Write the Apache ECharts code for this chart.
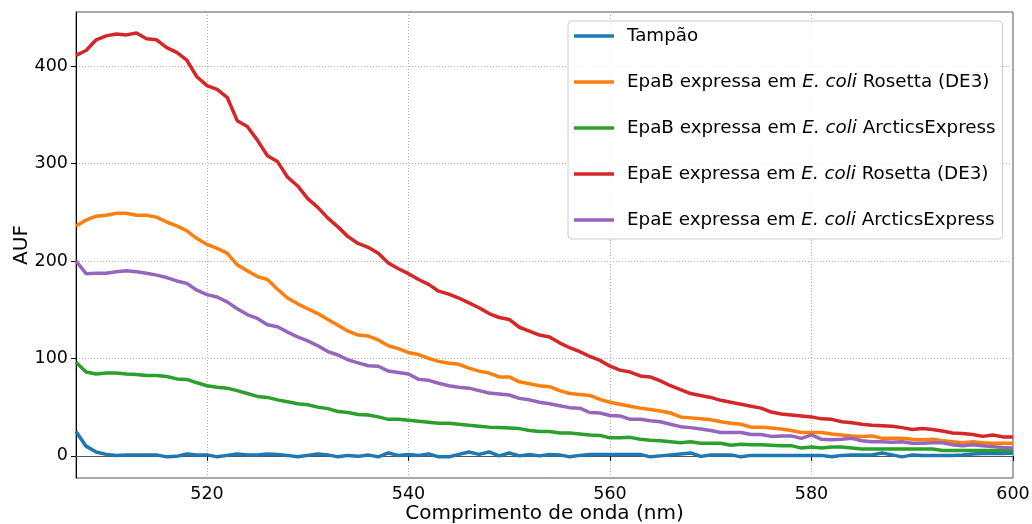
<!DOCTYPE html>
<html>
<head>
<meta charset="utf-8">
<script src="https://cdn.jsdelivr.net/npm/echarts@6/dist/echarts.min.js"></script>
<style>
  html, body { margin: 0; padding: 0; background: #fff; }
  #chart { width: 1032px; height: 524px; }
</style>
</head>
<body>
<div id="chart"></div>
<script>
// Emission spectra, one reading per nanometre from 507 nm to 600 nm
const WAVELENGTH_START = 507;
const WAVELENGTH_END = 600;

const seriesNames = [
  'Tampão',
  'EpaB expressa em E. coli Rosetta (DE3)',
  'EpaB expressa em E. coli ArcticsExpress',
  'EpaE expressa em E. coli Rosetta (DE3)',
  'EpaE expressa em E. coli ArcticsExpress'
];

const tampao = [
  25, 10, 4, 1.5, 0.5, 1, 1, 1, 1, -1, -0.5, 2, 1, 1, -1, 0.5, 2, 1, 1, 2,
  1.5, 0.5, -1, 0.5, 2, 1, -1, 0.5, -0.5, 1, -1, 3, 0.5, 1.5, 0.5, 2, -1, -1, 1.5, 4,
  1.5, 4, 0, 3, 0, 1.5, 0, 1.5, 1, -1, 0.5, 1.5, 1.5, 1.5, 1.5, 1.5, 1.5, -1, 0, 1,
  2, 3, -0.5, 1, 1, 1, -1, 0.5, 0.5, 0.5, 0.5, 0.5, 0.5, 0.5, 0.5, -1, 0.5, 1, 1, 1,
  3, 1, -1, 1, 0.5, 0.5, 0.5, 0.5, 1, 2, 2.5, 2.5, 2.5, 3
];

const epaBRosetta = [
  236, 242, 246, 247, 249, 249, 247, 247, 245, 240, 236, 231, 223, 217, 213, 208, 196, 190, 184, 181,
  171, 162, 156, 151, 146, 140, 134, 128, 124, 123, 119, 113, 110, 106, 104, 100, 97, 95, 94, 90,
  87, 85, 81, 81, 76, 74, 72, 71, 67, 64, 63, 62, 58, 55, 53, 51, 49, 47.5, 46, 44,
  40, 39, 38, 37, 35, 33.5, 32.5, 29.5, 29.5, 28.5, 27.5, 26, 24, 24, 24, 22.5, 21.5, 20.5, 20, 20.5,
  18, 18, 18, 17, 16.5, 17, 15.5, 14.5, 13.5, 14.5, 13.5, 13, 13, 13
];

const epaBArctic = [
  96, 86, 84, 85, 85, 84, 83.5, 82.5, 82.5, 81.5, 79, 78.5, 75, 72, 70.5, 69.5, 67, 64, 61, 60,
  57.5, 55.5, 53.5, 52.5, 50, 48.5, 45.5, 44.5, 42.5, 42, 40, 37.5, 37.5, 36.5, 35.5, 34.5, 33.5, 33.5, 32.5, 31.5,
  30.5, 29.5, 29, 28.5, 28, 26, 25, 25, 23.5, 23.5, 22.5, 21.5, 21, 18.5, 18.5, 19, 17, 16, 15.5, 14.5,
  13.5, 14.5, 13, 13, 13, 11, 12, 11.5, 11.5, 11, 10.5, 10.5, 8, 9, 8, 9, 9, 8, 7, 7,
  7, 7, 7, 7, 7, 7, 5.5, 5.5, 5.5, 5.5, 5.5, 5.5, 5.5, 5.5
];

const epaERosetta = [
  411, 416, 427, 431, 433, 432, 434, 428, 427, 419, 414, 406, 389, 380, 376, 368, 344, 338, 324, 308,
  302, 286, 277, 264, 255, 244, 235, 225, 218, 214, 208, 198, 192, 187, 181, 176, 169, 166, 162, 157,
  152, 146, 142, 140, 132, 128, 124, 122, 116, 111, 107, 102, 98, 92, 88, 86, 82, 81, 77, 72,
  68, 64, 62, 60, 57, 55, 53, 51, 49, 45, 43, 42, 41, 40, 38, 37.5, 35, 34, 32.5, 31.5,
  31, 30.5, 29, 27, 28, 27, 25.5, 23.5, 23, 22, 20, 21.5, 19.5, 19.5
];

const epaEArctic = [
  200, 187, 187.5, 187.5, 189, 190, 189, 187.5, 185.5, 183, 179.5, 177, 170, 165.5, 163, 158, 151, 145, 141, 134.5,
  132.5, 127, 122, 118, 113, 107, 103.5, 98.5, 95.5, 92.5, 92, 87, 85.5, 84, 78.5, 77.5, 74.5, 72, 70.5, 69.5,
  67, 64.5, 63.5, 62.5, 59, 57.5, 55, 53.5, 51.5, 49.5, 49, 44.5, 44, 41.5, 41, 37.5, 37.5, 36, 35, 32.5,
  30, 29, 27.5, 26, 24, 24, 24, 22, 22, 20, 20.5, 20.5, 18, 21.5, 17, 16.5, 17, 18, 15.5, 14.5,
  14.5, 14, 14.5, 13, 13, 13.5, 13.5, 11.5, 10.5, 11.5, 10.5, 9.5, 8.5, 8
];

const xTicks = [520, 540, 560, 580, 600];
const yTicks = [0, 100, 200, 300, 400];

const seriesValues = [tampao, epaBRosetta, epaBArctic, epaERosetta, epaEArctic];
const colors = ['#1f77b4', '#ff7f0e', '#2ca02c', '#d62728', '#9467bd'];

const FONT = 'DejaVu Sans';

function toPairs(values) {
  return values.map((v, i) => [WAVELENGTH_START + i, v]);
}

const chart = echarts.init(document.getElementById('chart'), null, { renderer: 'canvas' });

chart.setOption({
  animation: false,
  backgroundColor: '#ffffff',
  textStyle: { fontFamily: FONT },
  grid: {
    left: 76, right: 19, top: 12, bottom: 46,
    containLabel: false,
    outerBoundsMode: 'none',
    show: true, borderColor: '#555', borderWidth: 1, backgroundColor: 'transparent'
  },
  xAxis: {
    type: 'value',
    min: WAVELENGTH_START,
    max: WAVELENGTH_END,
    name: 'Comprimento de onda (nm)',
    nameLocation: 'middle',
    nameGap: 26,
    nameMoveOverlap: false,
    nameTextStyle: { fontSize: 20, color: '#000', fontFamily: FONT },
    axisLine: { show: true, lineStyle: { color: '#555', width: 1 } },
    axisTick: { show: true, length: 5, inside: false, customValues: xTicks, lineStyle: { color: '#000' } },
    axisLabel: { customValues: xTicks, fontSize: 17.5, color: '#000', margin: 7, fontFamily: FONT },
    splitLine: { show: true, lineStyle: { type: [1, 2], color: '#b0b0b0', width: 1 } }
  },
  yAxis: {
    type: 'value',
    min: -22.7,
    max: 455.5,
    name: 'AUF',
    nameLocation: 'middle',
    nameGap: 44,
    nameMoveOverlap: false,
    nameTextStyle: { fontSize: 20, color: '#000', fontFamily: FONT },
    axisLine: { show: true, lineStyle: { color: '#000', width: 1 } },
    axisTick: { show: true, length: 5, inside: false, customValues: yTicks, lineStyle: { color: '#000' } },
    axisLabel: { customValues: yTicks, fontSize: 17.5, color: '#000', margin: 8, fontFamily: FONT },
    splitLine: { show: true, lineStyle: { type: [1, 2], color: '#b0b0b0', width: 1 } }
  },
  legend: {
    orient: 'vertical',
    left: 568,
    top: 21,
    data: seriesNames,
    icon: 'rect',
    itemWidth: 40,
    itemHeight: 3.5,
    itemGap: 24,
    padding: [4, 7, 8, 6],
    backgroundColor: 'rgba(255,255,255,0.85)',
    borderColor: '#cccccc',
    borderWidth: 1,
    borderRadius: 4,
    formatter: name => name.replace('E. coli', '{i|E. coli}'),
    textStyle: {
      fontSize: 18.3,
      lineHeight: 22,
      color: '#000',
      fontFamily: FONT,
      padding: [0, 0, 0, 8],
      rich: {
        i: { fontSize: 18.3, lineHeight: 22, fontStyle: 'italic', color: '#000', fontFamily: FONT }
      }
    }
  },
  series: seriesNames.map((name, k) => ({
    name: name,
    type: 'line',
    data: toPairs(seriesValues[k]),
    showSymbol: false,
    symbol: 'none',
    color: colors[k],
    lineStyle: { color: colors[k], width: 3.5 },
    emphasis: { disabled: true }
  }))
});
</script>
</body>
</html>
